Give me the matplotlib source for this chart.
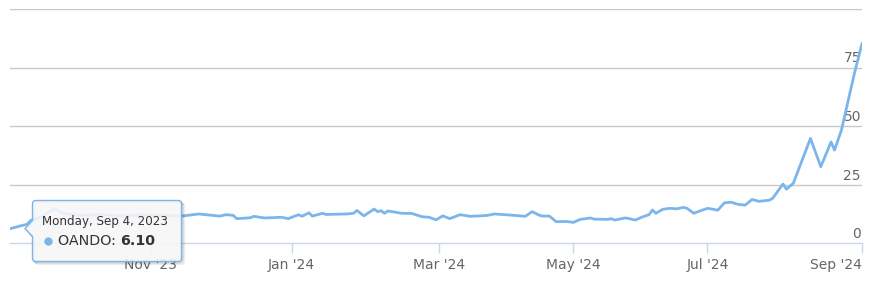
import numpy as np
import matplotlib
matplotlib.use("Agg")
import matplotlib.pyplot as plt
from matplotlib.path import Path
from matplotlib.patches import PathPatch

# trading sessions since 2023-09-04 (ordinal axis, weekends/holidays skipped)
sessions = [0, 3, 5, 6, 9, 13, 15, 20, 26, 32, 38, 44, 50, 55, 61, 63, 65, 66,
            70, 71, 74, 76, 79, 81, 82, 84, 85, 87, 88, 91, 92, 98, 100, 101,
            103, 106, 107, 108, 109, 110, 114, 117, 120, 122, 124, 126, 128,
            131, 134, 137, 139, 141, 146, 150, 152, 154, 155, 157, 159, 162,
            164, 166, 169, 170, 174, 175, 176, 179, 180, 182, 184, 186, 187,
            188, 190, 192, 194, 196, 197, 199, 201, 203, 204, 206, 208, 210,
            212, 214, 216, 218, 221, 222, 225, 226, 228, 233, 236,
            239, 240, 242, 244, 246, 248]
prices = [6.1, 7.3, 8.0, 9.6, 11.0, 14.8, 12.8, 11.8, 12.2, 11.5, 12.0, 11.8,
          11.5, 12.4, 11.5, 12.1, 11.8, 10.4, 10.8, 11.4, 10.7, 10.8, 11.0,
          10.4, 11.0, 12.1, 11.4, 12.9, 11.5, 12.7, 12.2, 12.4, 12.7, 13.9,
          11.6, 14.5, 13.4, 13.8, 12.7, 13.7, 12.7, 12.6, 11.2, 11.0, 9.9,
          11.6, 10.4, 12.1, 11.4, 11.6, 11.8, 12.4, 11.9, 11.4, 13.4, 11.9,
          11.5, 11.5, 9.1, 9.2, 8.8, 10.1, 10.7, 10.2, 10.1, 10.4, 9.8, 10.7,
          10.5, 9.8, 11.1, 12.1, 14.1, 12.7, 14.4, 14.8, 14.6, 15.2, 14.9,
          12.7, 13.8, 14.8, 14.6, 14.0, 17.2, 17.4, 16.5, 16.2, 18.6, 17.8,
          18.3, 19.1, 25.2, 23.0, 25.5, 44.7, 32.6, 43.2, 39.7,
          48.2, 61.0, 73.8, 85.2]

start = "2023-09-04"
holidays = ["2023-10-02", "2023-12-25", "2023-12-26", "2024-01-01",
            "2024-03-29", "2024-04-01", "2024-04-10", "2024-04-11",
            "2024-05-01", "2024-06-12", "2024-06-17", "2024-06-18"]
month_starts = ["2023-11-01", "2024-01-01", "2024-03-01", "2024-05-01",
                "2024-07-01", "2024-09-01"]
month_labels = ["Nov '23", "Jan '24", "Mar '24", "May '24", "Jul '24", "Sep '24"]
y_ticks = [0, 25, 50, 75]

LINE = "#7cb5ec"
GRID = "#c8c8c8"
AXIS = "#ccd6eb"
LABEL = "#666666"

fig = plt.figure(figsize=(8.85, 2.83), dpi=100)
ax = fig.add_axes([10 / 885, 40 / 283, 852 / 885, 234 / 283])

ax.plot(sessions, prices, color=LINE, lw=2, solid_joinstyle="round", zorder=3)

ax.set_xlim(0, 248)
ax.set_ylim(0, 100)

# horizontal grid
for v in [25, 50, 75, 100]:
    ax.axhline(v, color=GRID, lw=1, zorder=1)
for s in ["top", "left", "right"]:
    ax.spines[s].set_visible(False)
ax.spines["bottom"].set_color(AXIS)
ax.spines["bottom"].set_linewidth(1)

tick_pos = np.busday_count(start, month_starts, holidays=holidays)
ax.set_xticks(tick_pos)
ax.set_xticklabels(month_labels)
ax.tick_params(axis="x", length=7.5, width=1, color=AXIS, pad=3,
               labelsize=10, labelcolor=LABEL)
ax.get_xticklabels()[-1].set_ha("right")
ax.set_yticks([])

for v in y_ticks:
    ax.annotate(str(v), xy=(1, v), xycoords=("axes fraction", "data"),
                xytext=(-1, 2), textcoords="offset pixels",
                ha="right", va="bottom", fontsize=10, color=LABEL, zorder=2)

# tooltip overlay in pixel coords (y down)
ov = fig.add_axes([0, 0, 1, 1], zorder=10)
ov.set_xlim(0, 885)
ov.set_ylim(283, 0)
ov.axis("off")
ov.patch.set_alpha(0)

x0, x1, y0, y1, r = 32.5, 181.5, 200.5, 261.5, 3
def callout(dx=0, dy=0):
    verts = [(x0 + r + dx, y0 + dy), (x1 - r + dx, y0 + dy),
             (x1 + dx, y0 + dy), (x1 + dx, y0 + r + dy),
             (x1 + dx, y1 - r + dy), (x1 + dx, y1 + dy),
             (x1 - r + dx, y1 + dy), (x0 + r + dx, y1 + dy),
             (x0 + dx, y1 + dy), (x0 + dx, y1 - r + dy),
             (x0 + dx, 236.5 + dy), (25 + dx, 228.5 + dy), (x0 + dx, 220.5 + dy),
             (x0 + dx, y0 + r + dy), (x0 + dx, y0 + dy), (x0 + r + dx, y0 + dy),
             (x0 + r + dx, y0 + dy)]
    codes = [Path.MOVETO, Path.LINETO, Path.CURVE3, Path.CURVE3, Path.LINETO,
             Path.CURVE3, Path.CURVE3, Path.LINETO, Path.CURVE3, Path.CURVE3,
             Path.LINETO, Path.LINETO, Path.LINETO, Path.LINETO, Path.CURVE3,
             Path.CURVE3, Path.CLOSEPOLY]
    return Path(verts, codes)

for i, a in [(3, 0.05), (2, 0.1), (1, 0.15)]:
    ov.add_patch(PathPatch(callout(i, i), fc="none", ec="black", lw=1, alpha=a))
ov.add_patch(PathPatch(callout(), fc=(0.97, 0.97, 0.97, 0.88), ec=LINE, lw=1))

ov.text(42, 221.5, "Monday, Sep 4, 2023", fontsize=8.6, color="#333333",
        va="center", ha="left")
ov.plot([48], [241], "o", ms=6, color=LINE, mec="none")
t = ov.text(58, 241, "OANDO: ", fontsize=10.3, color="#333333", va="center", ha="left")
ov.annotate("6.10", xy=(1, 0.5), xycoords=t, va="center", ha="left",
            fontsize=10.3, fontweight="bold", color="#333333")

fig.savefig("out.png", dpi=100)
